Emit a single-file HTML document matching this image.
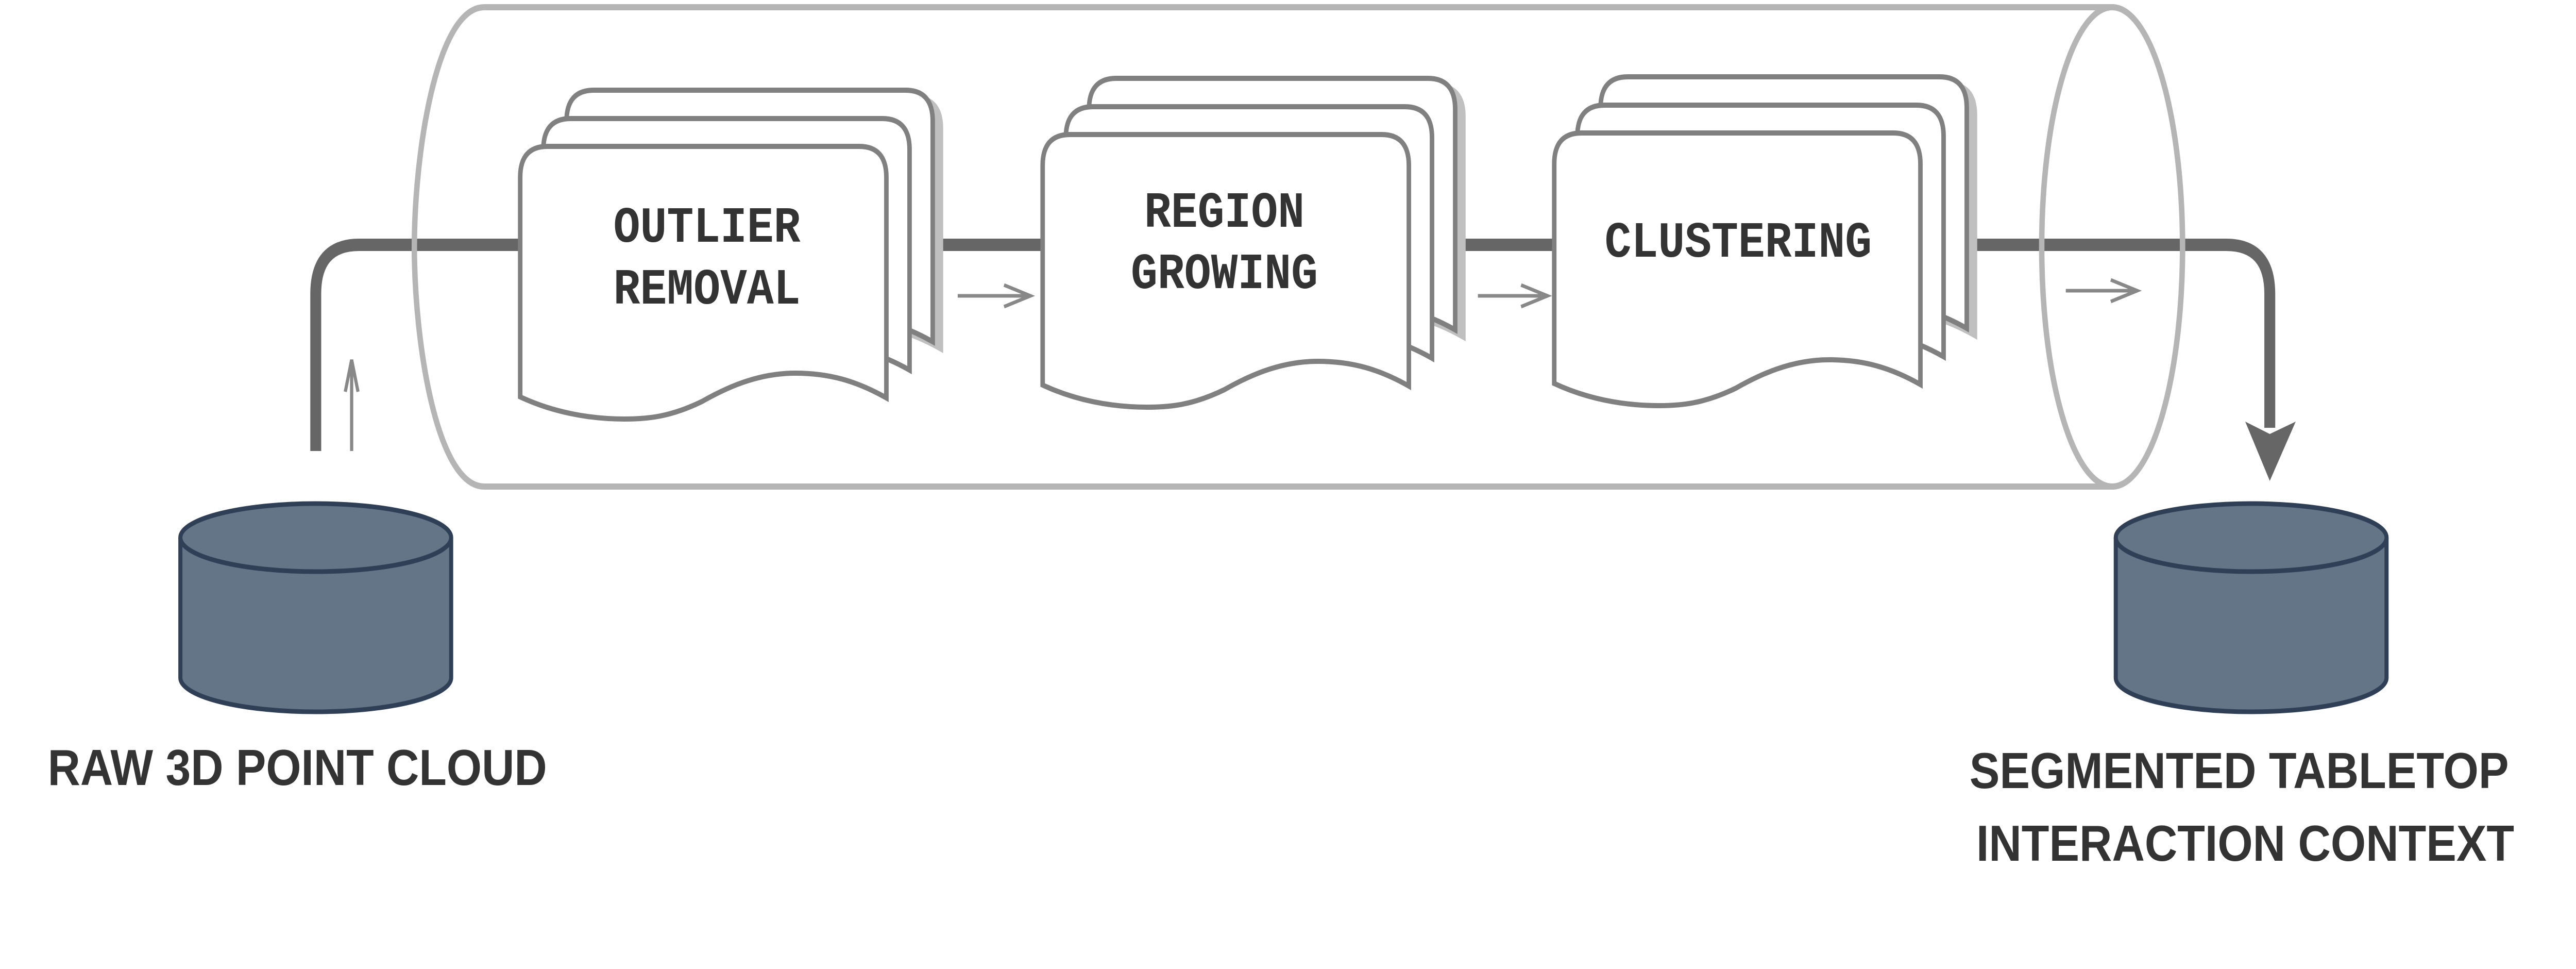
<!DOCTYPE html>
<html><head><meta charset="utf-8"><style>html,body{margin:0;padding:0;background:#fff;width:100vw;height:100vh;overflow:hidden}svg{display:block;width:100vw;height:100vh}</style></head>
<body>
<svg viewBox="0 0 5670 1880" preserveAspectRatio="none" xmlns="http://www.w3.org/2000/svg">
<defs>
<path id="doc" d="M0,486 L0,60 Q0,0 60,0 L746,0 Q806,0 806,60 L806,488 C740,455 680,440 605,440 C520,440 450,470 400,495 C330,525 280,529 230,529 C150,529 70,515 0,486 Z"/>
<g id="stack">
  <use href="#doc" x="120" y="-95" fill="#c0c0c0" stroke="#c0c0c0" stroke-width="10"/>
  <use href="#doc" x="102" y="-109" fill="#fff" stroke="#808080" stroke-width="10"/>
  <use href="#doc" x="51" y="-54" fill="#fff" stroke="#808080" stroke-width="10"/>
  <use href="#doc" x="0" y="0" fill="#fff" stroke="#808080" stroke-width="10"/>
</g>
</defs>

<path d="M695,875 L695,570 Q695,475 790,475 L4900,475 Q4996,475 4996,570 L4996,830" fill="none" stroke="#666" stroke-width="24"/>
<path d="M4942,818 L4996,933 L5053,818 L4996,842 Z" fill="#666"/>

<path d="M1066,14 L4653,14 M1066,944 L4653,944" stroke="#b5b5b5" stroke-width="12" fill="none"/>
<path d="M1066,14 C960,14 912,300 912,479 C912,660 960,944 1066,944" stroke="#b5b5b5" stroke-width="12" fill="none"/>
<ellipse cx="4649" cy="479" rx="155" ry="465" stroke="#b5b5b5" stroke-width="12" fill="none"/>

<g stroke="#888" stroke-width="7" fill="none">
  <path d="M774,875 L774,700 M760,760 L774,698 L788,760"/>
  <path d="M2108,574 L2268,574 M2210,553 L2268,574 L2210,595"/>
  <path d="M3253,574 L3406,574 M3348,553 L3406,574 L3348,595"/>
  <path d="M4547,564 L4704,564 M4646,543 L4704,564 L4646,585"/>
</g>

<use href="#stack" x="1145" y="284"/>
<use href="#stack" x="2295" y="261"/>
<use href="#stack" x="3421" y="258"/>

<g font-family="'Liberation Mono', monospace" font-weight="bold" font-size="98" fill="#333" text-anchor="middle">
  <text x="1556" y="469">OUTLIER</text>
  <text x="1556" y="589">REMOVAL</text>
  <text x="2695" y="440">REGION</text>
  <text x="2695" y="559">GROWING</text>
  <text x="3826" y="498">CLUSTERING</text>
</g>

<g fill="#647588" stroke="#2f3f55" stroke-width="9">
  <path d="M397,1043 L397,1315 A298,66 0 0 0 993,1315 L993,1043"/>
  <ellipse cx="695" cy="1043" rx="298" ry="66"/>
  <path d="M4657,1043 L4657,1315 A298,66 0 0 0 5253,1315 L5253,1043"/>
  <ellipse cx="4955" cy="1043" rx="298" ry="66"/>
</g>

<g font-family="'Liberation Sans', sans-serif" font-weight="bold" font-size="98" fill="#333">
  <text x="105" y="1523" textLength="1099" lengthAdjust="spacingAndGlyphs">RAW 3D POINT CLOUD</text>
  <text x="4335" y="1529" textLength="1187" lengthAdjust="spacingAndGlyphs">SEGMENTED TABLETOP</text>
  <text x="4350" y="1670" textLength="1184" lengthAdjust="spacingAndGlyphs">INTERACTION CONTEXT</text>
</g>
</svg>
</body></html>
